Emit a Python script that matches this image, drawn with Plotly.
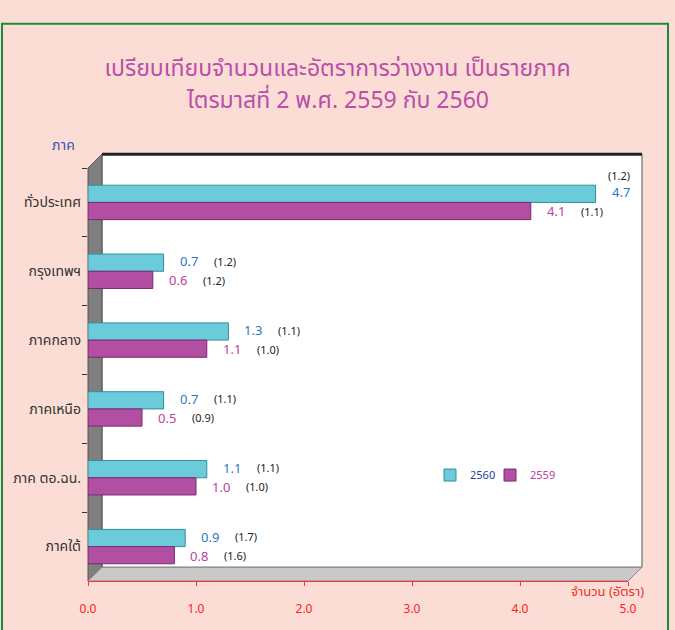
import plotly.graph_objects as go

# data
regions = ["ทั่วประเทศ", "กรุงเทพฯ", "ภาคกลาง", "ภาคเหนือ", "ภาค ตอ.ฉน.", "ภาคใต้"]
count_2560 = [4.7, 0.7, 1.3, 0.7, 1.1, 0.9]
rate_2560 = [1.2, 1.2, 1.1, 1.1, 1.1, 1.7]
count_2559 = [4.1, 0.6, 1.1, 0.5, 1.0, 0.8]
rate_2559 = [1.1, 1.2, 1.0, 0.9, 1.0, 1.6]
x_ticks = [0, 1, 2, 3, 4, 5]

W, H = 675, 630
L, R, T, B = 88, 628, 168, 589   # front plot area in pixels
DX, DY = 14, 14                   # 3d depth offset

FONT = "Noto Sans Thai, Tahoma, Loma, Garuda, sans-serif"
CYAN, CYAN_EDGE = "#6ccbdb", "#2f8f99"
MAG, MAG_EDGE = "#b24fa2", "#7a2a70"
TITLE_COL = "#b94fa8"


def px(p):
    return (p - L) / (R - L)


def py(q):
    return (B - q) / (B - T)


def path(points):
    return "M " + " L ".join(f"{px(a):.4f},{py(b):.4f}" for a, b in points) + " Z"


fig = go.Figure()
fig.add_trace(go.Bar(y=regions, x=count_2560, orientation="h", name="<span style='color:#2b3f9e'>2560</span>",
                     marker=dict(color=CYAN, line=dict(color=CYAN_EDGE, width=1)),
                     legend="legend", showlegend=True))
fig.add_trace(go.Bar(y=regions, x=count_2559, orientation="h", name="<span style='color:#c0409e'>2559</span>",
                     marker=dict(color=MAG, line=dict(color=MAG_EDGE, width=1)),
                     legend="legend2", showlegend=True))

# value and rate labels
for series, rates, vcol, ysh in [(count_2560, rate_2560, "#2a78c0", 9), (count_2559, rate_2559, "#c0409e", -10)]:
    for cat, v, r in zip(regions, series, rates):
        fig.add_annotation(x=v, y=cat, text=f"{v:.1f}", showarrow=False, xanchor="left",
                           xshift=14, yshift=ysh, font=dict(family=FONT, size=13, color=vcol))
        if v > 4.5:
            fig.add_annotation(x=v, y=cat, text=f"({r:.1f})", showarrow=False, xanchor="left",
                               xshift=10, yshift=ysh + 17, font=dict(family=FONT, size=11, color="#222222"))
        else:
            fig.add_annotation(x=v, y=cat, text=f"({r:.1f})", showarrow=False, xanchor="left",
                               xshift=48, yshift=ysh, font=dict(family=FONT, size=11, color="#222222"))

shapes = [
    # outer green frame
    dict(type="rect", xref="paper", yref="paper", x0=px(2), x1=px(668), y0=py(640), y1=py(21),
         line=dict(color="#1e8a3c", width=2), fillcolor="rgba(0,0,0,0)", layer="below"),
    # back wall
    dict(type="path", xref="paper", yref="paper", layer="below",
         path=path([(L + DX, T - DY), (R + DX, T - DY), (R + DX, B - DY), (L + DX, B - DY)]),
         fillcolor="white", line=dict(color="#555555", width=1)),
    dict(type="line", xref="paper", yref="paper", layer="below",
         x0=px(L + DX), x1=px(R + DX), y0=py(T - DY), y1=py(T - DY), line=dict(color="#222222", width=3)),
    # left wall
    dict(type="path", xref="paper", yref="paper", layer="below",
         path=path([(L, T), (L + DX, T - DY), (L + DX, B - DY), (L, B)]),
         fillcolor="#7f7f7f", line=dict(color="#555555", width=1)),
    # floor
    dict(type="path", xref="paper", yref="paper", layer="below",
         path=path([(L, B), (L + DX, B - DY), (R + DX, B - DY), (R, B)]),
         fillcolor="#c9c9c9", line=dict(color="#888888", width=1)),
]

legend_style = dict(orientation="h", yanchor="middle", xanchor="left", bgcolor="rgba(0,0,0,0)",
                    font=dict(family=FONT, size=11), itemwidth=30, visible=True)

fig.update_layout(
    width=W, height=H,
    margin=dict(l=L, r=W - R, t=T, b=H - B),
    paper_bgcolor="#fcddd5", plot_bgcolor="rgba(0,0,0,0)",
    barmode="group", bargap=0.5, bargroupgap=0,
    showlegend=True,
    title=dict(text="เปรียบเทียบจำนวนและอัตราการว่างงาน เป็นรายภาค",
               x=0.5, xanchor="center", y=1 - 68 / H, yanchor="middle",
               font=dict(family=FONT, size=23, color=TITLE_COL)),
    font=dict(family=FONT),
    shapes=shapes,
    legend=dict(legend_style, x=px(430), y=py(481)),
    legend2=dict(legend_style, x=px(490), y=py(481)),
    xaxis=dict(range=[0, 5], tickvals=x_ticks, tickformat=".1f", showgrid=False, zeroline=False,
               showline=True, linecolor="#ff3030", linewidth=1, ticks="outside", ticklen=4,
               tickcolor="#ff3030", ticklabelstandoff=13,
               tickfont=dict(family=FONT, size=12, color="#ff2020")),
    yaxis=dict(autorange="reversed", showgrid=False, ticks="outside", ticklen=5, tickcolor="#333333",
               tickson="boundaries", showline=False, ticklabelstandoff=6,
               tickfont=dict(family=FONT, size=14, color="#333333")),
    annotations=list(fig.layout.annotations) + [
        dict(text="ไตรมาสที่ 2 พ.ศ. 2559 กับ 2560", xref="paper", yref="paper", x=px(W / 2), y=py(100),
             showarrow=False, xanchor="center", yanchor="middle",
             font=dict(family=FONT, size=23, color=TITLE_COL)),
        dict(text="ภาค", xref="paper", yref="paper", x=px(63), y=py(145), showarrow=False,
             xanchor="center", yanchor="middle", font=dict(family=FONT, size=14, color="#3a55b0")),
        dict(text="จำนวน (อัตรา)", xref="paper", yref="paper", x=px(646), y=py(600), showarrow=False,
             xanchor="right", yanchor="middle", font=dict(family=FONT, size=13, color="#e8302a")),
    ],
)

fig.write_html("out.html", post_script="document.body.style.margin='0';",
               config={"displayModeBar": False})
